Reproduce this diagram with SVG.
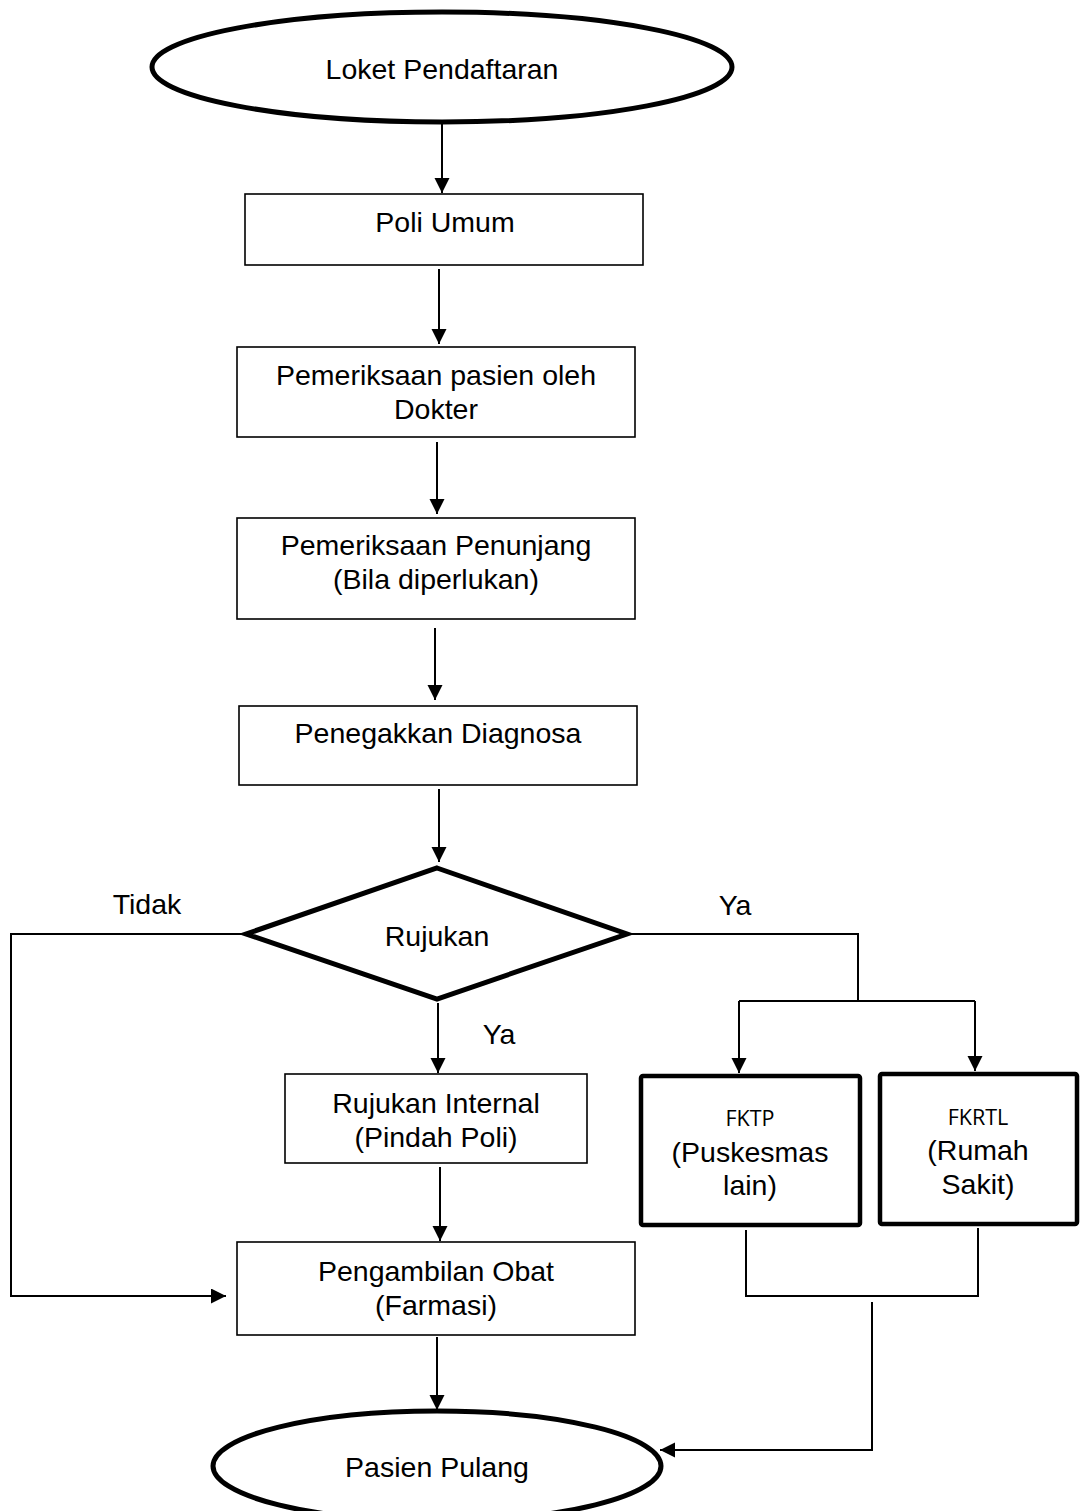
<svg xmlns="http://www.w3.org/2000/svg" width="1080" height="1511" viewBox="0 0 1080 1511">
  <style>
    .bg { fill: #ffffff; }
    .box { fill: #ffffff; stroke: #000000; stroke-width: 1.6; }
    .thick { fill: #ffffff; stroke: #000000; stroke-width: 4.5; stroke-linejoin: round; }
    .term { fill: #ffffff; stroke: #000000; stroke-width: 5; }
    .edge { fill: none; stroke: #000000; stroke-width: 2; }
    .t { font-family: "Liberation Sans", Arial, sans-serif; font-size: 28.5px; fill: #000000; text-anchor: middle; }
    .s { font-family: "Open Sans", "Noto Sans", sans-serif; font-size: 21.5px; fill: #000000; text-anchor: middle; }
  </style>
  <defs>
    <marker id="arrow" markerUnits="userSpaceOnUse" markerWidth="16" markerHeight="16" refX="15" refY="7.5" orient="auto">
      <path d="M0,0 L15,7.5 L0,15 Z" fill="#000000"/>
    </marker>
  </defs>

  <rect class="bg" x="0" y="0" width="1080" height="1511"/>

  <!-- connectors -->
  <g id="connectors">
    <line class="edge" x1="442" y1="124" x2="442" y2="193" marker-end="url(#arrow)"/>
    <line class="edge" x1="439" y1="269" x2="439" y2="344" marker-end="url(#arrow)"/>
    <line class="edge" x1="437" y1="442" x2="437" y2="514" marker-end="url(#arrow)"/>
    <line class="edge" x1="435" y1="628" x2="435" y2="700" marker-end="url(#arrow)"/>
    <line class="edge" x1="439" y1="789" x2="439" y2="862" marker-end="url(#arrow)"/>
    <line class="edge" x1="438" y1="1003" x2="438" y2="1073" marker-end="url(#arrow)"/>
    <line class="edge" x1="440" y1="1167" x2="440" y2="1241" marker-end="url(#arrow)"/>
    <line class="edge" x1="437" y1="1337" x2="437" y2="1410" marker-end="url(#arrow)"/>
    <!-- Tidak branch -->
    <polyline class="edge" points="246,934 11,934 11,1296 226,1296" marker-end="url(#arrow)"/>
    <!-- Ya branch to external referral -->
    <polyline class="edge" points="627,934 858,934 858,1001"/>
    <line class="edge" x1="739" y1="1001" x2="975" y2="1001"/>
    <line class="edge" x1="739" y1="1001" x2="739" y2="1073" marker-end="url(#arrow)"/>
    <line class="edge" x1="975" y1="1001" x2="975" y2="1071" marker-end="url(#arrow)"/>
    <!-- return from external referral -->
    <polyline class="edge" points="746,1230 746,1296 978,1296 978,1228"/>
    <polyline class="edge" points="872,1302 872,1450 660,1450" marker-end="url(#arrow)"/>
  </g>

  <!-- nodes -->
  <g id="loket">
    <ellipse class="term" cx="442" cy="67" rx="290" ry="55"/>
    <text class="t" x="442" y="79">Loket Pendaftaran</text>
  </g>

  <g id="poli-umum">
    <rect class="box" x="245" y="194" width="398" height="71"/>
    <text class="t" x="445" y="232">Poli Umum</text>
  </g>

  <g id="pemeriksaan-dokter">
    <rect class="box" x="237" y="347" width="398" height="90"/>
    <text class="t" x="436" y="385">Pemeriksaan pasien oleh</text>
    <text class="t" x="436" y="419">Dokter</text>
  </g>

  <g id="pemeriksaan-penunjang">
    <rect class="box" x="237" y="518" width="398" height="101"/>
    <text class="t" x="436" y="555">Pemeriksaan Penunjang</text>
    <text class="t" x="436" y="589">(Bila diperlukan)</text>
  </g>

  <g id="diagnosa">
    <rect class="box" x="239" y="706" width="398" height="79"/>
    <text class="t" x="438" y="743">Penegakkan Diagnosa</text>
  </g>

  <g id="rujukan">
    <polygon class="term" points="437,868 627,934 437,999 246,934" stroke-linejoin="miter"/>
    <text class="t" x="437" y="946">Rujukan</text>
  </g>

  <g id="labels">
    <text class="t" x="147" y="914">Tidak</text>
    <text class="t" x="735" y="915">Ya</text>
    <text class="t" x="499" y="1044">Ya</text>
  </g>

  <g id="rujukan-internal">
    <rect class="box" x="285" y="1074" width="302" height="89"/>
    <text class="t" x="436" y="1113">Rujukan Internal</text>
    <text class="t" x="436" y="1147">(Pindah Poli)</text>
  </g>

  <g id="fktp">
    <rect class="thick" x="641" y="1076" width="219" height="149" rx="2"/>
    <text class="s" x="750" y="1126">FKTP</text>
    <text class="t" x="750" y="1162">(Puskesmas</text>
    <text class="t" x="750" y="1195">lain)</text>
  </g>

  <g id="fkrtl">
    <rect class="thick" x="880" y="1074" width="197" height="150" rx="2"/>
    <text class="s" x="978" y="1125">FKRTL</text>
    <text class="t" x="978" y="1160">(Rumah</text>
    <text class="t" x="978" y="1194">Sakit)</text>
  </g>

  <g id="farmasi">
    <rect class="box" x="237" y="1242" width="398" height="93"/>
    <text class="t" x="436" y="1281">Pengambilan Obat</text>
    <text class="t" x="436" y="1315">(Farmasi)</text>
  </g>

  <g id="pasien-pulang">
    <ellipse class="term" cx="437" cy="1466" rx="224" ry="55"/>
    <text class="t" x="437" y="1477">Pasien Pulang</text>
  </g>
</svg>
